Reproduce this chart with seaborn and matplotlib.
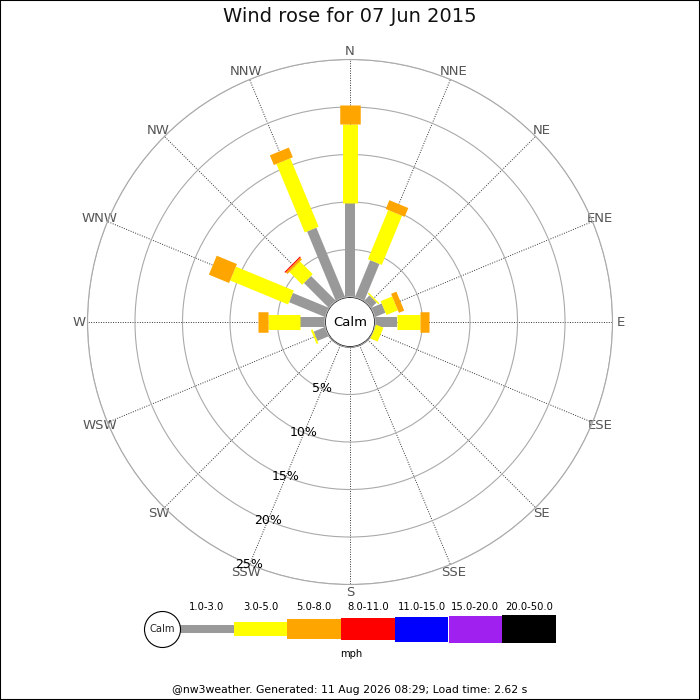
import numpy as np
import pandas as pd
import matplotlib
matplotlib.use('Agg')
import matplotlib.pyplot as plt
from matplotlib.patches import Circle, Rectangle
import seaborn as sns

sns.set_theme(style='white')
plt.rcParams['font.family'] = ['DejaVu Sans']

# Wind rose data (% of time)
directions = ['N', 'NNE', 'NE', 'ENE', 'E', 'ESE', 'SE', 'SSE',
              'S', 'SSW', 'SW', 'WSW', 'W', 'WNW', 'NW', 'NNW']
speed_bands = ['1.0-3.0', '3.0-5.0', '5.0-8.0', '8.0-11.0',
               '11.0-15.0', '15.0-20.0', '20.0-50.0']
band_colors = ['#999999', '#ffff00', '#ffa500', '#ff0000',
               '#0000ff', '#a020f0', '#000000']

pct_1_3 = [9.9, 4.2, 0.8, 1.2, 2.35, 0.0, 0, 0, 0, 0, 0, 1.3, 2.6, 4.1, 3.7, 7.9]
pct_3_5 = [8.35, 5.6, 0.15, 1.3, 2.4, 0.85, 0, 0, 0, 0, 0, 0.2, 3.4, 6.6, 1.9, 7.8]
pct_5_8 = [2.0, 1.0, 0, 0.6, 0.9, 0, 0, 0, 0, 0, 0, 0, 1.1, 2.3, 0.25, 1.1]
pct_8_11 = [0, 0, 0, 0, 0, 0, 0, 0, 0, 0, 0, 0, 0, 0, 0.12, 0]
pct_11_15 = [0] * 16
pct_15_20 = [0] * 16
pct_20_50 = [0] * 16

ring_pcts = [5, 10, 15, 20, 25]
title = 'Wind rose for 07 Jun 2015'
footer = '@nw3weather. Generated: 11 Aug 2026 08:29; Load time: 2.62 s'

# ---- layout helpers (pixels on a 700x700 canvas) ----
W = H = 700
def fig_box(x0, y_top, w, h):
    return [x0 / W, (H - y_top - h) / H, w / W, h / H]

cx, cy = 350, 322
calm_px = 25
px_per_pct = 9.5
rmax = 25
r_px = calm_px + rmax * px_per_pct

band_widths_px = [10, 15, 20.5, 22, 25, 27, 28]
legend_heights_px = [8, 14, 20, 22, 25, 27, 28]

# long table of stacked segments
all_bands = [pct_1_3, pct_3_5, pct_5_8, pct_8_11, pct_11_15, pct_15_20, pct_20_50]
rows = []
seg = 0
for i, d in enumerate(directions):
    theta = np.deg2rad(i * 22.5)
    base = 0.0
    for b, vals in enumerate(all_bands):
        v = vals[i]
        if v > 0:
            rows.append(dict(theta=theta, r=base, seg=seg, band=speed_bands[b]))
            rows.append(dict(theta=theta, r=base + v, seg=seg, band=speed_bands[b]))
            seg += 1
        base += v
df = pd.DataFrame(rows)

fig = plt.figure(figsize=(7, 7), dpi=100)
fig.patch.set_facecolor('white')

ax = fig.add_axes(fig_box(cx - r_px, cy - r_px, 2 * r_px, 2 * r_px),
                  projection='polar')
ax.set_theta_zero_location('N')
ax.set_theta_direction(-1)
ax.set_ylim(0, rmax)
ax.set_rorigin(-calm_px / px_per_pct)

palette = dict(zip(speed_bands, band_colors))
sizes = dict(zip(speed_bands, [w * 0.72 for w in band_widths_px]))
sns.lineplot(data=df, x='theta', y='r', hue='band', size='band',
             hue_order=speed_bands, size_order=speed_bands,
             palette=palette, sizes=sizes, units='seg', estimator=None,
             sort=False, legend=False, ax=ax, solid_capstyle='butt', zorder=3)
ax.set_xlabel('')
ax.set_ylabel('')

ax.set_thetagrids(np.arange(16) * 22.5, labels=directions)
ax.tick_params(axis='x', labelsize=9.5, labelcolor='#555555', pad=-1, length=0)
ax.set_rgrids(ring_pcts, labels=[''] * len(ring_pcts))
ax.xaxis.grid(True, color='#333333', linestyle=(0, (1, 1.5)), linewidth=0.7)
ax.yaxis.grid(True, color='#aaaaaa', linestyle='-', linewidth=0.8)
ax.spines['polar'].set_color('#aaaaaa')
ax.spines['polar'].set_linewidth(0.8)
ax.spines['inner'].set_visible(False)
ax.set_facecolor('white')

ssw = np.deg2rad(directions.index('SSW') * 22.5)
for p in ring_pcts:
    ax.text(ssw, p, f'{p}%', ha='center', va='center', fontsize=9, color='black', zorder=4)

ax.add_patch(Circle((0.5, 0.5), calm_px / (2 * r_px), transform=ax.transAxes,
                    facecolor='white', edgecolor='#d5d5d5', linewidth=0.8, zorder=5))
ax.text(0.5, 0.5, 'Calm', transform=ax.transAxes, ha='center', va='center',
        fontsize=9.5, color='black', zorder=6)

# ---- speed legend ----
lx0, lx1 = 140, 560
lax = fig.add_axes(fig_box(lx0, 629 - 32, lx1 - lx0, 64))
lax.set_xlim(lx0, lx1)
lax.set_ylim(-32, 32)
lax.axis('off')
seg_w = 53.7
seg_x = [180 + k * seg_w for k in range(len(speed_bands))]
heights = np.array(legend_heights_px)
lax.bar(seg_x, heights, width=seg_w, bottom=-heights / 2, align='edge',
        color=band_colors, linewidth=0)
for x, lab in zip(seg_x, speed_bands):
    lax.text(x + seg_w / 2, 22, lab, ha='center', va='center', fontsize=7.2, color='black')
lax.text(351, -25, 'mph', ha='center', va='center', fontsize=7.2, color='black')
lax.scatter([162.5], [0], s=672, facecolor='white', edgecolor='black',
            linewidth=0.8, zorder=3)
lax.text(162.5, 0, 'Calm', ha='center', va='center', fontsize=7.2, zorder=4)

fig.text(0.5, 1 - 17 / H, title, ha='center', va='center', fontsize=14, color='#111111')
fig.text(0.5, 1 - 690 / H, footer, ha='center', va='center', fontsize=7.8, color='black')
fig.patches.append(Rectangle((0, 0), 1, 1, transform=fig.transFigure, fill=False,
                             edgecolor='black', linewidth=1.5, zorder=10))

fig.savefig('out.png', dpi=100)
